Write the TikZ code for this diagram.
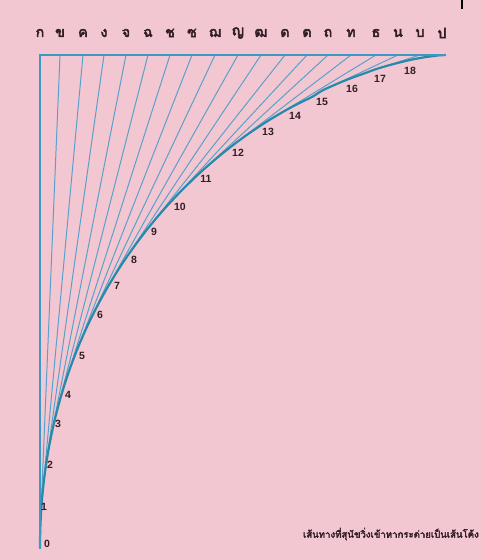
\documentclass[tikz,border=0pt]{standalone}
\usepackage{fontspec}
\setmainfont{Liberation Sans}
\newfontfamily\thaifont[Script=Thai,AutoFakeBold=3]{Loma}
\newfontfamily\thaiheavy[Script=Thai,FakeBold=4]{Loma}
\definecolor{bgpink}{RGB}{243,199,210}
\definecolor{thinblue}{RGB}{90,160,202}
\definecolor{axisblue}{RGB}{62,152,198}
\definecolor{curveblue}{RGB}{40,138,170}
\definecolor{inkdark}{RGB}{50,30,38}
\tikzset{
  thinline/.style={draw=thinblue, line width=1pt},
  axisline/.style={draw=axisblue, line width=1.9pt},
  curveline/.style={draw=curveblue, line width=2.2pt},
  letter/.style={font=\thaiheavy\fontsize{14}{14}\selectfont, text=inkdark, inner sep=0pt},
  numlabel/.style={font=\bfseries\fontsize{10.5}{11}\selectfont, text=inkdark, inner sep=0pt},
  caption/.style={font=\thaifont\bfseries\fontsize{9.6}{10}\selectfont, text=inkdark, inner sep=0pt, anchor=east}
}
\begin{document}
\begin{tikzpicture}[x=1pt,y=-1pt]
\fill[bgpink] (0,0) rectangle (482,560);
\useasboundingbox (0,0) rectangle (482,560);
\def\A{405}\def\B{493}
\coordinate (TL) at (40,55);
\coordinate (TR) at (446,55);
\coordinate (BL) at (40,549);
% rabbit positions, envelope (tangent) points and lines
\foreach \j/\xr/\ch in {0/40/ก,1/60/ข,2/83/ค,3/104/ง,4/126/จ,5/148/ฉ,6/170/ช,7/192/ซ,8/215/ฌ,9/238/ญ,10/261/ฒ,11/285/ด,12/307/ต,13/328/ถ,14/351/ท,15/376/ธ,16/398/น,17/420/บ,18/442/ป}{
  \pgfmathsetmacro\tt{(\xr-40)/\A}
  \pgfmathsetmacro\ex{40+\A*0.5*\tt*\tt/(1-0.5*\tt)}
  \pgfmathsetmacro\ey{55+\B*(1-\tt)^1.5/(1-0.5*\tt)}
  \coordinate (R\j) at (\xr,55);
  \coordinate (E\j) at (\ex,\ey);
  \node[letter] (L\j) at (\xr,33) {\ch};
  \draw[thinline] (R\j) -- (E\j);
}
% dog's path
\draw[curveline] plot[domain=0:0.995, samples=90, smooth] ({40+\A*0.5*\x*\x/(1-0.5*\x)}, {55+\B*(1-\x)^1.5/(1-0.5*\x)}) -- (TR);
% axes
\draw[axisline] (BL) -- (TL) -- (TR);
% step numbers
\foreach \n/\px/\py in {0/47/544,1/44/507,2/50/465,3/58/424,4/68/395,5/82/356,6/100/315,7/117/286,8/134/260,9/154/232,10/180/207,11/206/179,12/238/153,13/268/132,14/295/116,15/322/102,16/352/89,17/380/79,18/410/71}{
  \node[numlabel] (N\n) at (\px,\py) {\n};
}
\node[caption] (cap) at (479,534) {เส้นทางที่สุนัขวิ่งเข้าหากระต่ายเป็นเส้นโค้ง};
\draw[black, line width=1.2pt] (462,0) -- (462,9);
\end{tikzpicture}
\end{document}
